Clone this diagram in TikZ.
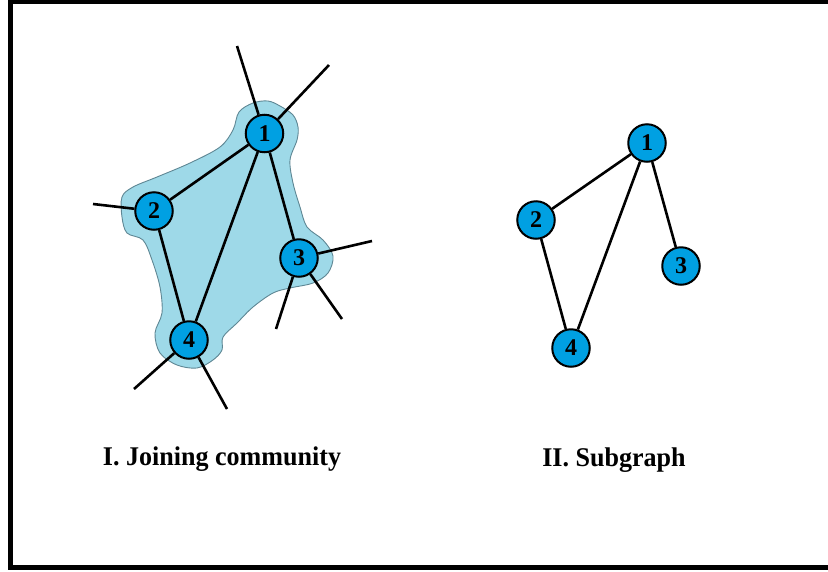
\documentclass[tikz,border=0pt]{standalone}
\usepackage{fontspec}
\setmainfont{Liberation Serif}
\begin{document}
\begin{tikzpicture}[x=1pt,y=-1pt,
  vtx/.style={circle,draw=black,line width=2pt,fill=nodeblue,minimum size=37.5pt,inner sep=0pt,
    font=\fontsize{24}{24}\selectfont\bfseries},
  edge/.style={line width=2.6pt,black},
  lbl/.style={font=\fontsize{27}{30}\selectfont\bfseries,inner sep=0pt,anchor=base,xscale=0.965}]
\definecolor{nodeblue}{RGB}{0,160,226}
\definecolor{blobfill}{RGB}{158,217,232}
\definecolor{blobline}{RGB}{95,135,148}
\useasboundingbox (0,0) rectangle (828,571);
\fill[white] (0,0) rectangle (828,571);
% frame (right side outside picture)
\draw[line width=4.5pt,line cap=butt] (828,2) -- (10.5,2) -- (10.5,567.5) -- (828,567.5);
% community blob
\draw[blobline,fill=blobfill,line width=0.9pt]
  plot[smooth cycle,tension=0.55] coordinates {
  (239,112) (253,103) (268,101) (280,106) (293,115) (298,127) (297,140) (290,160)
  (293,183) (300,207) (307,227) (323,240) (333,256) (328,273) (313,283) (290,288)
  (273,293) (253,307) (237,323) (223,337) (222,350) (213,360) (197,368) (177,365)
  (160,353) (155,333) (162,313) (160,287) (152,260) (143,240) (127,233) (122,217)
  (122,197) (133,187) (157,177) (190,163) (220,147) (233,130)};
% left graph
\node[vtx] (a1) at (264.5,133.5) {1};
\node[vtx] (a2) at (154,211) {2};
\node[vtx] (a3) at (299,258) {3};
\node[vtx] (a4) at (189,340) {4};
\coordinate (f1a) at (237,46);
\coordinate (f1b) at (329,65);
\coordinate (f2) at (93,204);
\coordinate (f3a) at (372,241);
\coordinate (f3b) at (342,319);
\coordinate (f3c) at (276,329);
\coordinate (f4a) at (134,389);
\coordinate (f4b) at (227,409);
\draw[edge] (a1) -- (a2);
\draw[edge] (a1) -- (a4);
\draw[edge] (a1) -- (a3);
\draw[edge] (a2) -- (a4);
\draw[edge] (a1) -- (f1a);
\draw[edge] (a1) -- (f1b);
\draw[edge] (a2) -- (f2);
\draw[edge] (a3) -- (f3a);
\draw[edge] (a3) -- (f3b);
\draw[edge] (a3) -- (f3c);
\draw[edge] (a4) -- (f4a);
\draw[edge] (a4) -- (f4b);
% right graph
\node[vtx] (b1) at (647,143) {1};
\node[vtx] (b2) at (536,220) {2};
\node[vtx] (b3) at (681,266) {3};
\node[vtx] (b4) at (571,348) {4};
\draw[edge] (b1) -- (b2);
\draw[edge] (b1) -- (b4);
\draw[edge] (b1) -- (b3);
\draw[edge] (b2) -- (b4);
% labels
\node[lbl] (t1) at (222,465) {I. Joining community};
\node[lbl] (t2) at (614,466) {II. Subgraph};
\end{tikzpicture}
\end{document}
